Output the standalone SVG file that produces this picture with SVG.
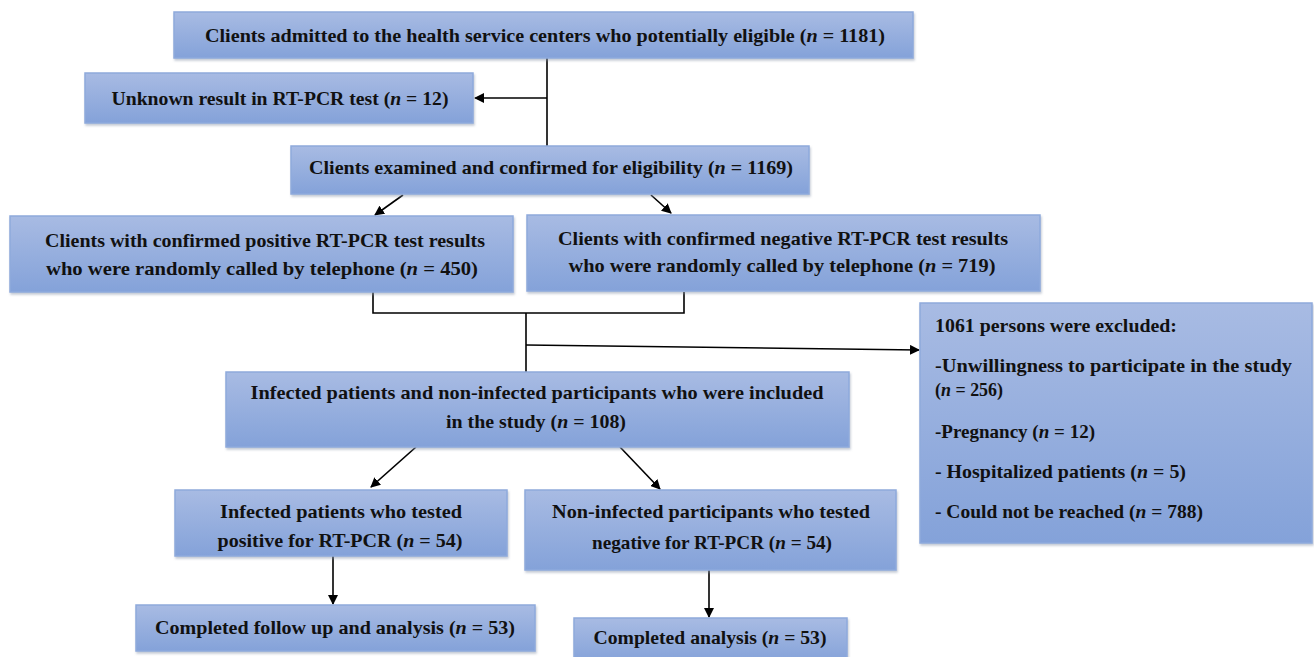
<svg xmlns="http://www.w3.org/2000/svg" width="1314" height="657" viewBox="0 0 1314 657">
<defs>
<linearGradient id="g" x1="0" y1="0" x2="0" y2="1">
<stop offset="0" stop-color="#a8bbe3"/>
<stop offset="1" stop-color="#84a2d9"/>
</linearGradient>
<marker id="ah" markerWidth="10" markerHeight="10" refX="9" refY="5" orient="auto" markerUnits="userSpaceOnUse">
<path d="M0,0 L10,5 L0,10 Z" fill="#000"/>
</marker>
<filter id="sh" x="-5%" y="-10%" width="110%" height="130%">
<feDropShadow dx="1" dy="2" stdDeviation="1.2" flood-color="#8895aa" flood-opacity="0.5"/>
</filter>
</defs>
<style>
.box{fill:url(#g);stroke:#8eaadc;stroke-width:1.5;filter:url(#sh)}
text{font-family:"Liberation Serif","DejaVu Serif",serif;font-weight:bold;font-size:19px;fill:#111}
.c{text-anchor:middle}
.i{font-style:italic}
.ln{fill:none;stroke:#000;stroke-width:1.6}
</style>
<g id="connectors">
<path class="ln" d="M547,58 V146"/>
<path class="ln" d="M547,98 H475" marker-end="url(#ah)"/>
<path class="ln" d="M403,195 L375,215" marker-end="url(#ah)"/>
<path class="ln" d="M651,195 L671,213" marker-end="url(#ah)"/>
<path class="ln" d="M373,292 V313 H684 V292"/>
<path class="ln" d="M526,313 V372"/>
<path class="ln" d="M526,345 L919,350" marker-end="url(#ah)"/>
<path class="ln" d="M416,447 L371,487" marker-end="url(#ah)"/>
<path class="ln" d="M620,447 L660,489" marker-end="url(#ah)"/>
<path class="ln" d="M333,556 V604" marker-end="url(#ah)"/>
<path class="ln" d="M709,570 V617" marker-end="url(#ah)"/>
</g>
<g id="n1">
<rect class="box" x="174" y="12" width="739" height="46"/>
<text class="c" x="545" y="42" textLength="680" lengthAdjust="spacingAndGlyphs">Clients admitted to the health service centers who potentially eligible (<tspan class="i">n</tspan> = 1181)</text>
</g>
<g id="n2">
<rect class="box" x="85" y="73" width="388" height="50"/>
<text class="c" x="280" y="105" textLength="337" lengthAdjust="spacingAndGlyphs">Unknown result in RT-PCR test (<tspan class="i">n</tspan> = 12)</text>
</g>
<g id="n3">
<rect class="box" x="291" y="146" width="518" height="48"/>
<text class="c" x="551" y="174" textLength="484" lengthAdjust="spacingAndGlyphs">Clients examined and confirmed for eligibility (<tspan class="i">n</tspan> = 1169)</text>
</g>
<g id="n4">
<rect class="box" x="10" y="216" width="503" height="76"/>
<text class="c" x="265" y="247" textLength="440" lengthAdjust="spacingAndGlyphs">Clients with confirmed positive RT-PCR test results</text>
<text class="c" x="262" y="275" textLength="432" lengthAdjust="spacingAndGlyphs">who were randomly called by telephone (<tspan class="i">n</tspan> = 450)</text>
</g>
<g id="n5">
<rect class="box" x="527" y="215" width="513" height="76"/>
<text class="c" x="783" y="245" textLength="450" lengthAdjust="spacingAndGlyphs">Clients with confirmed negative RT-PCR test results</text>
<text class="c" x="782" y="272" textLength="427" lengthAdjust="spacingAndGlyphs">who were randomly called by telephone (<tspan class="i">n</tspan> = 719)</text>
</g>
<g id="n6">
<rect class="box" x="920" y="303" width="392" height="240"/>
<text x="935" y="332" textLength="242" lengthAdjust="spacingAndGlyphs">1061 persons were excluded:</text>
<text x="935" y="372" textLength="357" lengthAdjust="spacingAndGlyphs">-Unwillingness to participate in the study</text>
<text x="935" y="396" textLength="68" lengthAdjust="spacingAndGlyphs">(<tspan class="i">n</tspan> = 256)</text>
<text x="935" y="438" textLength="160" lengthAdjust="spacingAndGlyphs">-Pregnancy (<tspan class="i">n</tspan> = 12)</text>
<text x="935" y="478" textLength="251" lengthAdjust="spacingAndGlyphs">- Hospitalized patients (<tspan class="i">n</tspan> = 5)</text>
<text x="935" y="518" textLength="268" lengthAdjust="spacingAndGlyphs">- Could not be reached (<tspan class="i">n</tspan> = 788)</text>
</g>
<g id="n7">
<rect class="box" x="226" y="372" width="623" height="75"/>
<text class="c" x="537" y="399" textLength="573" lengthAdjust="spacingAndGlyphs">Infected patients and non-infected participants who were included</text>
<text class="c" x="536" y="428" textLength="180" lengthAdjust="spacingAndGlyphs">in the study (<tspan class="i">n</tspan> = 108)</text>
</g>
<g id="n8">
<rect class="box" x="175" y="490" width="332" height="66"/>
<text class="c" x="341" y="518" textLength="242" lengthAdjust="spacingAndGlyphs">Infected patients who tested</text>
<text class="c" x="340" y="547" textLength="245" lengthAdjust="spacingAndGlyphs">positive for RT-PCR (<tspan class="i">n</tspan> = 54)</text>
</g>
<g id="n9">
<rect class="box" x="525" y="490" width="371" height="80"/>
<text class="c" x="711" y="518" textLength="318" lengthAdjust="spacingAndGlyphs">Non-infected participants who tested</text>
<text class="c" x="712" y="549" textLength="240" lengthAdjust="spacingAndGlyphs">negative for RT-PCR (<tspan class="i">n</tspan> = 54)</text>
</g>
<g id="n10">
<rect class="box" x="136" y="605" width="399" height="46"/>
<text class="c" x="335" y="634" textLength="360" lengthAdjust="spacingAndGlyphs">Completed follow up and analysis (<tspan class="i">n</tspan> = 53)</text>
</g>
<g id="n11">
<rect class="box" x="574" y="618" width="273" height="45"/>
<text class="c" x="710" y="644" textLength="233" lengthAdjust="spacingAndGlyphs">Completed analysis (<tspan class="i">n</tspan> = 53)</text>
</g>
</svg>
